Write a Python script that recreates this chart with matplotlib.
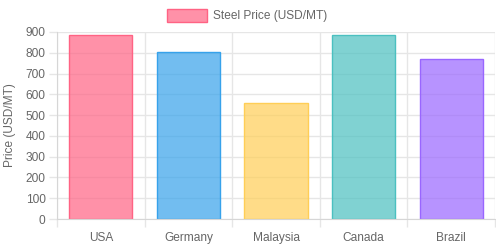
import matplotlib
matplotlib.use("Agg")
import matplotlib.pyplot as plt
from matplotlib.colors import to_rgba
from matplotlib.patches import Rectangle

plt.rcParams["font.family"] = ["Liberation Sans", "DejaVu Sans"]

countries = ["USA", "Germany", "Malaysia", "Canada", "Brazil"]
prices = [885, 805, 557, 884, 768]
fills = ["#ff6384", "#36a2eb", "#ffce56", "#4bc0c0", "#9966ff"]
series_label = "Steel Price (USD/MT)"
y_ticks = [0, 100, 200, 300, 400, 500, 600, 700, 800, 900]

W, H = 496, 248
fig = plt.figure(figsize=(W / 100, H / 100), dpi=100)
ax = fig.add_axes([57 / W, (H - 219) / H, (495 - 57) / W, (219 - 32) / H])

grid_c = "#e6e6e6"
text_c = "#666666"
fs = 8.6
face = [to_rgba(c, 0.7) for c in fills]

x = list(range(len(countries)))
ax.bar(x, prices, width=0.72, color=face, edgecolor=fills, linewidth=1, zorder=3)

ax.set_xlim(-0.5, len(countries) - 0.5)
ax.set_ylim(0, 900)
ax.set_yticks(y_ticks)
ax.set_xticks(x)
ax.set_xticklabels(countries)
ax.set_xticks([i - 0.5 for i in range(len(countries) + 1)], minor=True)

ax.grid(axis="y", color=grid_c, linewidth=1, zorder=0)
ax.grid(axis="x", which="minor", color=grid_c, linewidth=1, zorder=0)
ax.tick_params(axis="y", length=5.8, width=1, color=grid_c, labelcolor=text_c, labelsize=fs, pad=2.5)
ax.tick_params(axis="x", which="major", length=0, labelcolor=text_c, labelsize=fs, pad=9.5)
ax.tick_params(axis="x", which="minor", length=5.8, width=1, color=grid_c)

for side in ["top", "right"]:
    ax.spines[side].set_visible(False)
for side in ["left", "bottom"]:
    ax.spines[side].set_color("#d6d6d6")
    ax.spines[side].set_zorder(4)

fig.text(10 / W, 1 - 125 / H, "Price (USD/MT)", rotation=90, ha="center", va="center",
         fontsize=fs, color=text_c)

# legend
fig.add_artist(Rectangle((167 / W, 1 - 22 / H), 40 / W, 12.5 / H, transform=fig.transFigure,
                         facecolor=face[0], edgecolor=fills[0], linewidth=1))
fig.text(213 / W, 1 - 15.5 / H, series_label, ha="left", va="center", fontsize=fs, color=text_c)

fig.savefig("out.png", dpi=100)
